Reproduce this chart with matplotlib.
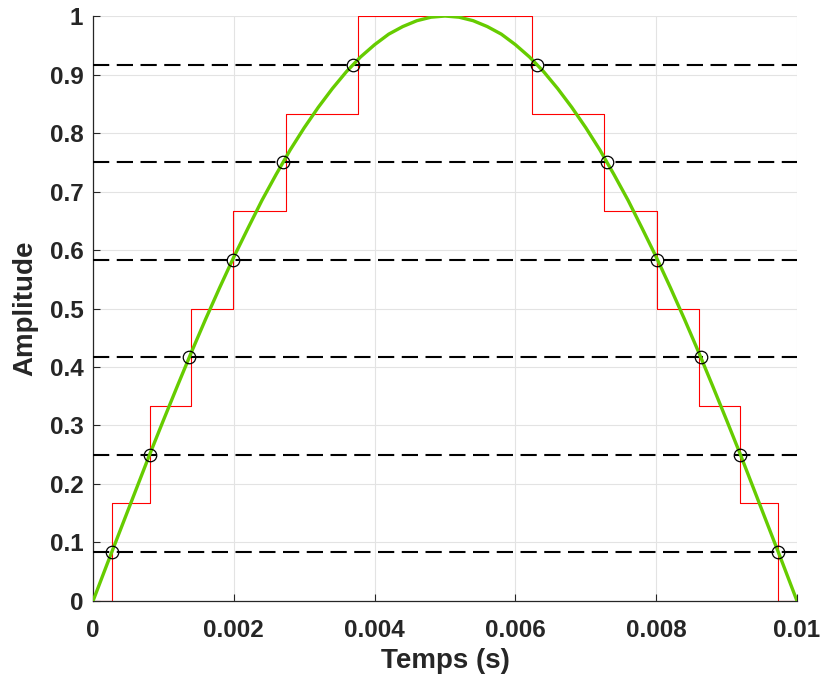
import matplotlib
matplotlib.use('Agg')
import matplotlib.pyplot as plt
import numpy as np

plt.rcParams['font.family'] = ['Liberation Sans', 'DejaVu Sans']
plt.rcParams['font.weight'] = 'bold'

# signal samples (one period half, 0..0.01 s)
t_signal = np.linspace(0, 0.01, 51)
amplitude = [0.000, 0.063, 0.125, 0.187, 0.249, 0.309, 0.368, 0.426, 0.482, 0.536,
             0.588, 0.637, 0.685, 0.729, 0.771, 0.809, 0.844, 0.876, 0.905, 0.930,
             0.951, 0.969, 0.982, 0.992, 0.998, 1.000, 0.998, 0.992, 0.982, 0.969,
             0.951, 0.930, 0.905, 0.876, 0.844, 0.809, 0.771, 0.729, 0.685, 0.637,
             0.588, 0.536, 0.482, 0.426, 0.368, 0.309, 0.249, 0.187, 0.125, 0.063,
             0.000]

# decision thresholds (dashed lines)
thresholds = [0.0833, 0.25, 0.4167, 0.5833, 0.75, 0.9167]

# crossing instants (circles)
t_cross = [0.000266, 0.000804, 0.001368, 0.001983, 0.0027, 0.00369,
           0.00631, 0.0073, 0.008017, 0.008632, 0.009196, 0.009734]
y_cross = [0.0833, 0.25, 0.4167, 0.5833, 0.75, 0.9167,
           0.9167, 0.75, 0.5833, 0.4167, 0.25, 0.0833]

# quantized staircase (switching instants)
step_edges = [0, 0.000275, 0.00081, 0.001392, 0.001993, 0.002737, 0.00376,
              0.00624, 0.007263, 0.008009, 0.00861, 0.00919, 0.009725, 0.01]
step_levels = [0, 0.1667, 0.3333, 0.5, 0.6667, 0.8333, 1.0,
               0.8333, 0.6667, 0.5, 0.3333, 0.1667, 0]

fig = plt.figure(figsize=(8.21, 6.79), dpi=100)
ax = fig.add_axes([0.1133, 0.1149, 0.8575, 0.8615])

ax.step(step_edges, step_levels + [step_levels[-1]], where='post',
        color='red', lw=0.8, zorder=2)
for th in thresholds:
    ax.axhline(th, color='black', lw=1.5, ls=(0, (7.8, 3.6)), zorder=3)
ax.plot(t_signal, amplitude, color='#66cc00', lw=2.4, zorder=4)
ax.plot(t_cross, y_cross, 'o', mfc='none', mec='black', ms=9, mew=0.9, zorder=5)

ax.set_xlim(0, 0.01)
ax.set_ylim(0, 1)
ax.set_xticks(np.arange(0, 0.0101, 0.002))
ax.set_xticklabels(['0', '0.002', '0.004', '0.006', '0.008', '0.01'])
ax.set_yticks(np.arange(0, 1.01, 0.1))
ax.set_yticklabels(['0', '0.1', '0.2', '0.3', '0.4', '0.5', '0.6', '0.7', '0.8', '0.9', '1'])
ax.grid(True, color='#e3e3e3', lw=0.8)
ax.set_axisbelow(True)
for s in ['top', 'right']:
    ax.spines[s].set_visible(False)
for s in ['left', 'bottom']:
    ax.spines[s].set_color('#262626')
    ax.spines[s].set_linewidth(0.9)
ax.tick_params(direction='in', length=5, width=0.8, colors='#262626',
               labelsize=17.5)
ax.tick_params(axis='y', pad=7)
ax.tick_params(axis='x', pad=13)
for lab in ax.get_xticklabels() + ax.get_yticklabels():
    lab.set_fontweight('bold')
ax.set_xlabel('Temps (s)', fontsize=20, fontweight='bold', color='#262626', labelpad=4)
ax.set_ylabel('Amplitude', fontsize=20, fontweight='bold', color='#262626', labelpad=8)

fig.savefig('out.png', dpi=100)
